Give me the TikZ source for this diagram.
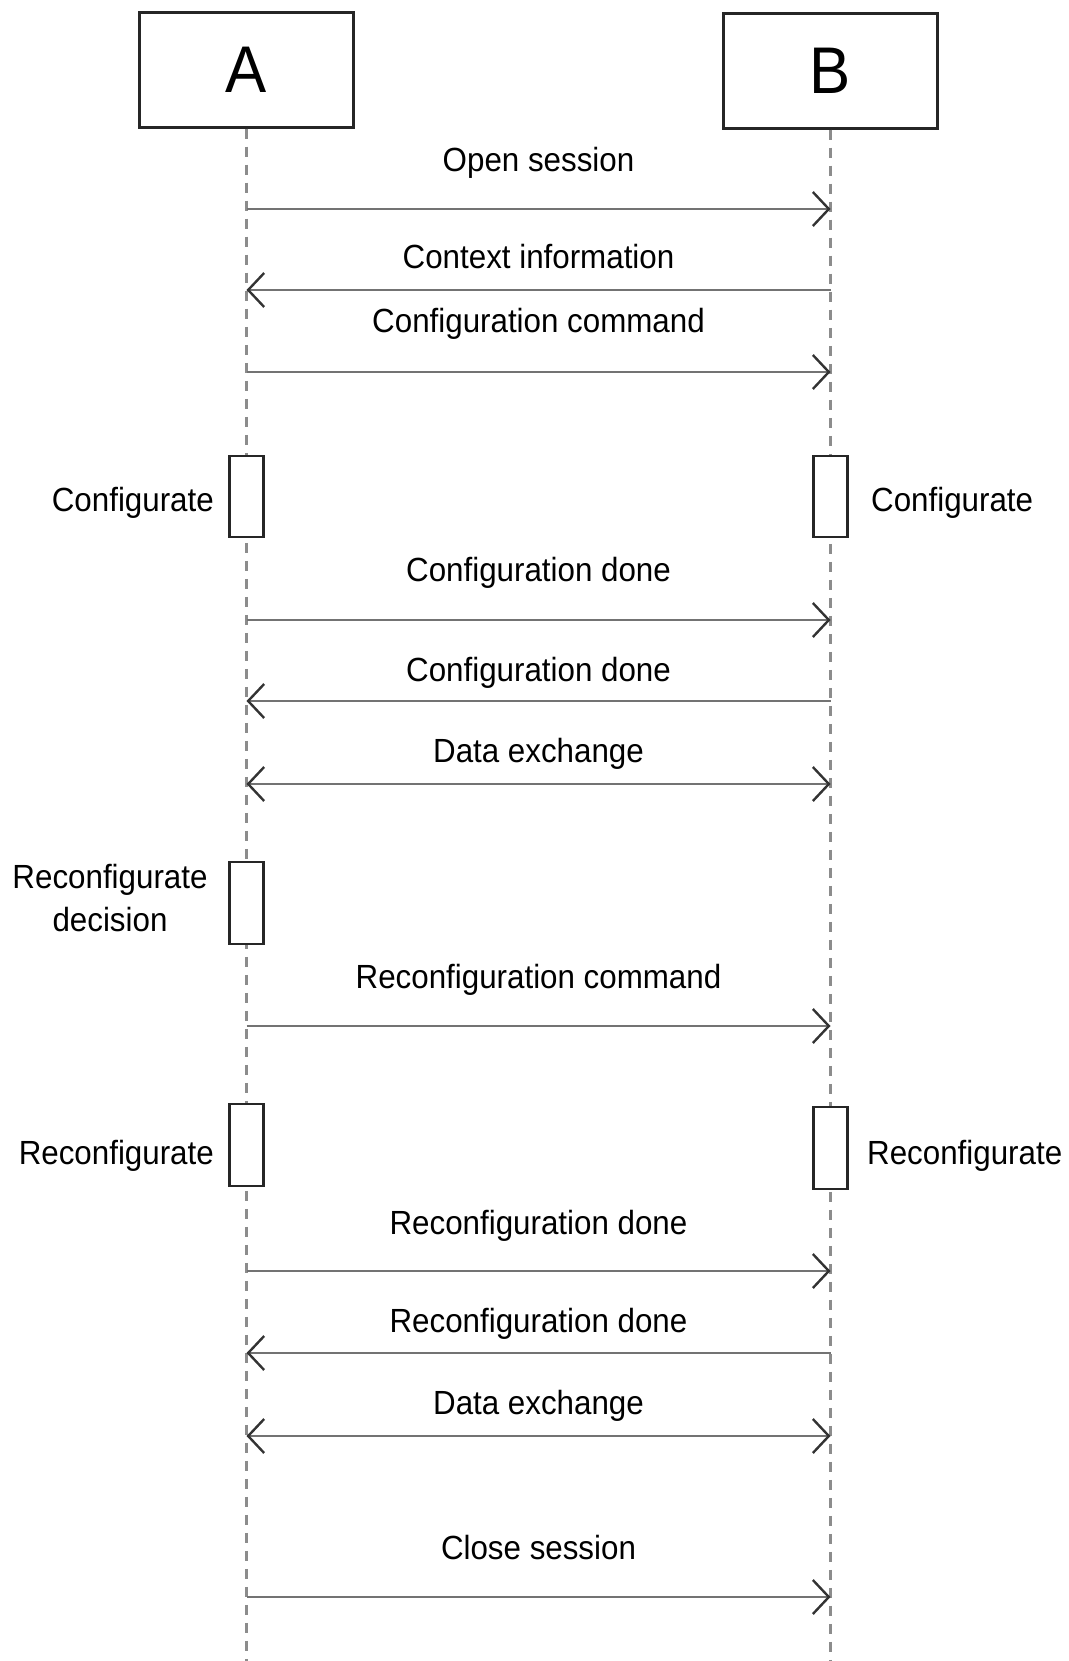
\documentclass[tikz,border=0pt]{standalone}
\usepackage{fontspec}
\setmainfont{Liberation Sans}[FakeStretch=0.935]
\usetikzlibrary{arrows.meta}
\tikzset{
  actor/.style={draw=black!85, line width=2.5pt, fill=white, minimum width=214pt, minimum height=115pt, inner sep=0pt, font=\fontsize{66}{70}\selectfont},
  lifeline/.style={draw=black!45, line width=2.2pt, dash pattern=on 10pt off 8pt},
  activation/.style={draw=black!85, line width=2.5pt, fill=white, minimum width=34pt, minimum height=81pt, inner sep=0pt},
  tipV/.tip={Straight Barb[length=16pt,width=34pt,line width=2.4pt,color=black!80]},
  msg/.style={draw=black!55, line width=2.5pt, -tipV},
  msgboth/.style={draw=black!55, line width=2.5pt, tipV-tipV},
  lbl/.style={anchor=base, inner sep=0pt, font=\fontsize{33.5}{43}\selectfont},
  sidel/.style={anchor=base east, inner sep=0pt, font=\fontsize{33.5}{43}\selectfont},
  sider/.style={anchor=base west, inner sep=0pt, font=\fontsize{33.5}{43}\selectfont},
}
\begin{document}
\begin{tikzpicture}[x=1pt,y=-1pt]
\useasboundingbox (0,0) rectangle (1068,1661);
% actors
\node[actor] (A) at (246.5,70) {A};
\node[actor] (B) at (830.5,71) {B};
\coordinate (Aend) at (246.5,1661);
\coordinate (Bend) at (830.5,1661);
\draw[lifeline] (A.south) -- (Aend);
\draw[lifeline] (B.south) -- (Bend);
% activation boxes
\node[activation] (actA1) at (246.5,496.5) {};
\node[activation] (actB1) at (830.5,496.5) {};
\node[activation, minimum height=82pt] (actA2) at (246.5,903) {};
\node[activation, minimum height=82pt] (actA3) at (246.5,1145) {};
\node[activation, minimum height=82pt] (actB3) at (830.5,1148) {};
% side labels
\node[sidel] (lConfA) at (214,511) {Configurate};
\node[sider] (lConfB) at (871,511) {Configurate};
\node[anchor=base, inner sep=0pt, align=center, font=\fontsize{33.5}{43}\selectfont] (lDec) at (110,931) {Reconfigurate\\decision};
\node[sidel] (lReA) at (214,1164) {Reconfigurate};
\node[sider] (lReB) at (867,1164) {Reconfigurate};
% message endpoints
\foreach \n/\y in {1/209,2/290,3/372,4/620,5/701,6/784,7/1026,8/1271,9/1353,10/1436,11/1597}{
  \coordinate (a\n) at (246.5,\y);
  \coordinate (b\n) at (830.5,\y);
}
% messages
\draw[msg] (a1) -- (b1);
\node[lbl] (m1) at (538.5,172) {Open session};
\draw[msg] (b2) -- (a2);
\node[lbl] (m2) at (538.5,269) {Context information};
\draw[msg] (a3) -- (b3);
\node[lbl] (m3) at (538.5,333) {Configuration command};
\draw[msg] (a4) -- (b4);
\node[lbl] (m4) at (538.5,581) {Configuration done};
\draw[msg] (b5) -- (a5);
\node[lbl] (m5) at (538.5,681) {Configuration done};
\draw[msgboth] (a6) -- (b6);
\node[lbl] (m6) at (538.5,762) {Data exchange};
\draw[msg] (a7) -- (b7);
\node[lbl] (m7) at (538.5,988) {Reconfiguration command};
\draw[msg] (a8) -- (b8);
\node[lbl] (m8) at (538.5,1234) {Reconfiguration done};
\draw[msg] (b9) -- (a9);
\node[lbl] (m9) at (538.5,1332) {Reconfiguration done};
\draw[msgboth] (a10) -- (b10);
\node[lbl] (m10) at (538.5,1414) {Data exchange};
\draw[msg] (a11) -- (b11);
\node[lbl] (m11) at (538.5,1559) {Close session};
\end{tikzpicture}
\end{document}
